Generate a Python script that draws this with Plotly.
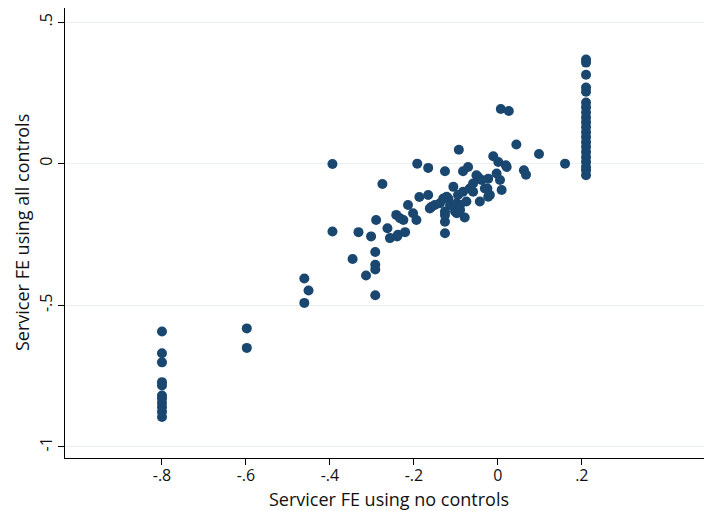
import plotly.graph_objects as go

# Servicer fixed effects: estimated without controls (x) vs with all controls (y)
fe_no_controls = [
    # servicers near -.8
    -0.80, -0.80, -0.80, -0.80, -0.80, -0.80, -0.80, -0.80, -0.80, -0.80, -0.80,
    # -.6 and -.45
    -0.598, -0.598, -0.461, -0.451, -0.461,
    # main cloud
    -0.394, -0.394, -0.346, -0.332, -0.314, -0.302, -0.292, -0.292, -0.292, -0.292,
    -0.290, -0.275, -0.263, -0.257, -0.242, -0.240, -0.238, -0.233, -0.225, -0.221,
    -0.214, -0.202, -0.194, -0.192, -0.187, -0.166, -0.166, -0.162, -0.158, -0.150,
    -0.138, -0.130, -0.126, -0.126, -0.126, -0.126, -0.126, -0.122, -0.118, -0.114,
    -0.106, -0.102, -0.098, -0.098, -0.095, -0.093, -0.090, -0.090, -0.083, -0.083,
    -0.079, -0.075, -0.071, -0.067, -0.059, -0.059, -0.051, -0.047, -0.043, -0.039,
    -0.031, -0.025, -0.023, -0.023, -0.019, -0.011, -0.003, 0.001, 0.005, 0.009,
    0.007, 0.026, 0.019, 0.021, 0.044, 0.062, 0.067, 0.098, 0.160,
    # servicers near .2
    0.21, 0.21, 0.21, 0.21, 0.21, 0.21, 0.21, 0.21, 0.21, 0.21, 0.21,
    0.21, 0.21, 0.21, 0.21, 0.21, 0.21, 0.21, 0.21, 0.21, 0.21,
]
fe_all_controls = [
    -0.593, -0.670, -0.702, -0.772, -0.784, -0.819, -0.829, -0.845, -0.860, -0.877, -0.895,
    -0.582, -0.651, -0.406, -0.448, -0.492,
    -0.001, -0.240, -0.337, -0.242, -0.395, -0.257, -0.312, -0.357, -0.374, -0.465,
    -0.199, -0.072, -0.228, -0.263, -0.181, -0.257, -0.251, -0.193, -0.199, -0.242,
    -0.146, -0.175, -0.199, 0.000, -0.118, -0.015, -0.111, -0.158, -0.152, -0.146,
    -0.140, -0.123, -0.027, -0.169, -0.205, -0.246, -0.181, -0.117, -0.123, -0.146,
    -0.082, -0.169, -0.140, -0.175, -0.111, 0.049, -0.146, -0.164, -0.027, -0.099,
    -0.190, -0.134, -0.012, -0.088, -0.070, -0.099, -0.041, -0.047, -0.134, -0.058,
    -0.088, -0.088, -0.053, -0.117, -0.111, 0.026, -0.035, 0.006, -0.058, -0.093,
    0.193, 0.186, -0.006, -0.012, 0.068, -0.023, -0.039, 0.034, 0.000,
    0.368, 0.357, 0.314, 0.269, 0.254, 0.216, 0.199, 0.181, 0.163, 0.146, 0.129,
    0.111, 0.094, 0.076, 0.059, 0.041, 0.023, 0.006, -0.012, -0.023, -0.041,
]

x_ticks = [-0.8, -0.6, -0.4, -0.2, 0, 0.2]
x_tick_labels = ["-.8", "-.6", "-.4", "-.2", "0", ".2"]
y_ticks = [-1, -0.5, 0, 0.5]
y_tick_labels = ["-1", "-.5", "0", ".5"]

x_title = "Servicer FE using no controls"
y_title = "Servicer FE using all controls"

FONT = "Open Sans"

fig = go.Figure()
fig.add_trace(
    go.Scatter(
        x=fe_no_controls,
        y=fe_all_controls,
        mode="markers",
        marker=dict(color="#1a476f", size=10, line=dict(width=0)),
        hoverinfo="x+y",
    )
)

# page body has an 8px margin, so the figure is a bit smaller than the window
fig.update_layout(
    width=704,
    height=503,
    margin=dict(l=57, r=0, t=0, b=53),
    paper_bgcolor="white",
    plot_bgcolor="white",
    showlegend=False,
    font=dict(family=FONT, size=16, color="#111111"),
    xaxis=dict(
        range=[-1.031, 0.51],
        tickvals=x_ticks,
        ticktext=x_tick_labels,
        automargin=False,
        showgrid=False,
        zeroline=False,
        showline=True,
        linecolor="black",
        linewidth=1,
        ticks="outside",
        ticklen=6,
        tickcolor="black",
        ticklabelstandoff=-3,
        tickfont=dict(size=16),
    ),
    yaxis=dict(
        range=[-1.04, 0.55],
        tickvals=y_ticks,
        ticktext=y_tick_labels,
        tickangle=-90,
        automargin=False,
        showgrid=True,
        gridcolor="#e8f0f2",
        gridwidth=1,
        zeroline=False,
        showline=True,
        linecolor="black",
        linewidth=1,
        ticks="outside",
        ticklen=6,
        tickcolor="black",
        tickfont=dict(size=16),
    ),
)

# axis titles as annotations so they sit where Stata puts them
fig.add_annotation(
    text=x_title, xref="paper", yref="paper", x=0.5, y=0,
    xanchor="center", yanchor="middle", yshift=-41,
    showarrow=False, font=dict(size=18),
)
fig.add_annotation(
    text=y_title, xref="paper", yref="paper", x=0, y=0.5,
    xanchor="center", yanchor="middle", xshift=-43, textangle=-90,
    showarrow=False, font=dict(size=18),
)

fig.write_html("out.html")
